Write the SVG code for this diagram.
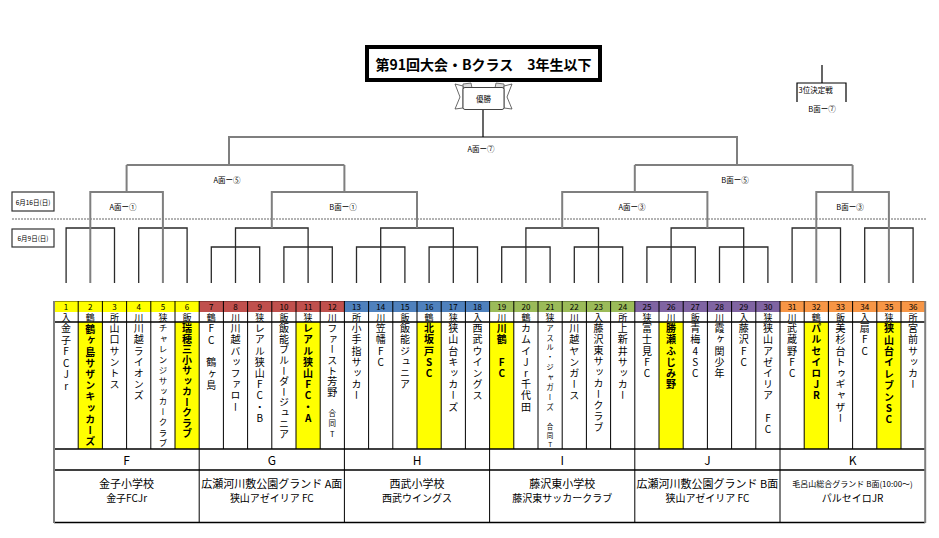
<svg xmlns="http://www.w3.org/2000/svg" width="939" height="538" viewBox="0 0 939 538">
<style>
.t{font-family:"Noto Sans CJK JP","Noto Sans CJK SC",sans-serif;fill:#000}
.v{writing-mode:vertical-rl;text-orientation:upright;font-size:10px;letter-spacing:1.2px}
.b{font-weight:bold}
.c{text-anchor:middle;dominant-baseline:central}
.num{font-size:8px}
.let{font-size:9px}
.lbl{font-size:7.5px}
.grp{font-size:12px}
.ven{font-size:11px}
.sub{font-size:10px}
.ln{stroke:#2a2a2a;stroke-width:1.3;fill:none}
.gl{stroke:#7f7f7f;stroke-width:2;fill:none}
.bk{stroke:#000;stroke-width:1.2;fill:none}
.tl{stroke:#000;stroke-width:1;fill:none}
</style>
<rect width="939" height="538" fill="#fff"/>

<!-- title -->
<g id="title">
<path d="M463 84 L471 83 L472 88 L463 88 Z M504 84 L496 83 L495 88 L504 88 Z" fill="#ddd" stroke="#555" stroke-width="0.8"/>
<rect x="367" y="47" width="233" height="33" fill="#fff" stroke="#000" stroke-width="4"/>
<text class="t c b" x="483.5" y="63.5" font-size="14">第91回大会・Bクラス　3年生以下</text>
</g>
<g id="winner">
<polygon points="463,86 455,84 460,97 455,109 463,108" fill="#fff" stroke="#444" stroke-width="0.8"/>
<polygon points="504,86 512,84 507,97 512,109 504,108" fill="#fff" stroke="#444" stroke-width="0.8"/>
<rect x="463" y="87.5" width="41" height="22" rx="2" fill="#fff" stroke="#444" stroke-width="1"/>
<text class="t c" x="483.5" y="98.5" font-size="7.5">優勝</text>
</g>

<!-- date boxes -->
<g id="date16">
<rect x="12" y="192" width="42" height="19" fill="#fff" stroke="#333" stroke-width="1.2"/>
<text class="t c" x="33" y="201.5" font-size="6.5">6月16日(日)</text>
</g>
<g id="date9">
<rect x="12" y="229" width="42" height="18" fill="#fff" stroke="#333" stroke-width="1.2"/>
<text class="t c" x="33" y="238" font-size="6.5">6月9日(日)</text>
</g>
<line x1="12" y1="219" x2="926" y2="219" stroke="#666" stroke-width="1" stroke-dasharray="2,1"/>

<!-- connectors -->
<g id="connectors">
<path class="ln" d="M66.1 283V228H114.5V283M138.7 283V228H187.1V283"/>
<path class="gl" d="M90.3 283V192H162.9V283M126.6 192V165"/>
<path class="ln" d="M211.3 283V247H259.7V283M283.9 283V247H332.3V283M235.5 283V228H308.1V283"/>
<path class="ln" d="M356.5 283V247H404.9V283M429.1 283V247H477.5V283M380.7 283V228H453.3V283"/>
<path class="ln" d="M501.7 283V247H550.1V283M574.3 283V247H622.7V283M525.9 283V228H598.5V283"/>
<path class="ln" d="M646.9 283V247H695.3V283M719.5 283V247H767.9V283M671.1 283V228H743.7V283"/>
<path class="ln" d="M792.1 283V228H840.5V283M864.7 283V228H913.1V283"/>
<path class="gl" d="M816.3 283V192H888.9V283M852.6 192V165"/>
<path class="gl" d="M271.8 228V192H417V228M344.4 192V165"/>
<path class="gl" d="M562.2 228V192H707.4V228M634.8 192V165"/>
<path class="gl" d="M126.6 165H344.4M229 165V137H737V165M634.8 165H852.6"/>
<path class="bk" d="M483 137V110"/>
<path class="bk" d="M822 65V83M797 102V83H846V102"/>
</g>

<!-- match labels -->
<g id="labels">
<text class="t c lbl" x="481" y="148">A面ー⑦</text>
<text class="t c lbl" x="227" y="179">A面ー⑤</text>
<text class="t c lbl" x="735" y="179">B面ー⑤</text>
<text class="t c lbl" x="123" y="206">A面ー①</text>
<text class="t c lbl" x="343" y="206">B面ー①</text>
<text class="t c lbl" x="632" y="206">A面ー③</text>
<text class="t c lbl" x="850" y="206">B面ー③</text>
<text class="t lbl" x="798.5" y="89" dominant-baseline="central">3位決定戦</text>
<text class="t c lbl" x="822" y="108">B面ー⑦</text>
</g>

<!-- table -->
<g id="table">
<rect x="54" y="301" width="145.2" height="11" fill="#FFFF00"/>
<rect x="199.2" y="301" width="145.2" height="11" fill="#C0504D"/>
<rect x="344.4" y="301" width="145.2" height="11" fill="#4F81BD"/>
<rect x="489.6" y="301" width="145.2" height="11" fill="#9BBB59"/>
<rect x="634.8" y="301" width="145.2" height="11" fill="#8064A2"/>
<rect x="780" y="301" width="145.2" height="11" fill="#F79646"/>
<path d="M54 301.5H199.2" stroke="#9a9a00" stroke-width="1.2"/>
<path d="M199.2 301.5H344.4" stroke="#8c3836" stroke-width="1.2"/>
<path d="M344.4 301.5H489.6" stroke="#385d8a" stroke-width="1.2"/>
<path d="M489.6 301.5H634.8" stroke="#71893f" stroke-width="1.2"/>
<path d="M634.8 301.5H780" stroke="#5c4776" stroke-width="1.2"/>
<path d="M780 301.5H925.2" stroke="#b66d31" stroke-width="1.2"/>
<g fill="#FFFF00">
<rect x="78.2" y="322" width="24.2" height="127"/>
<rect x="175" y="322" width="24.2" height="127"/>
<rect x="296" y="322" width="24.2" height="127"/>
<rect x="417" y="322" width="24.2" height="127"/>
<rect x="489.6" y="322" width="24.2" height="127"/>
<rect x="659" y="322" width="24.2" height="127"/>
<rect x="804.2" y="322" width="24.2" height="127"/>
<rect x="876.8" y="322" width="24.2" height="127"/>
</g>
<path class="tl" d="M78.2 301V449M102.4 301V449M126.6 301V449M150.8 301V449M175 301V449M199.2 301V523M223.4 301V449M247.6 301V449M271.8 301V449M296 301V449M320.2 301V449M344.4 301V523M368.6 301V449M392.8 301V449M417 301V449M441.2 301V449M465.4 301V449M489.6 301V523M513.8 301V449M538 301V449M562.2 301V449M586.4 301V449M610.6 301V449M634.8 301V523M659 301V449M683.2 301V449M707.4 301V449M731.6 301V449M755.8 301V449M780 301V523M804.2 301V449M828.4 301V449M852.6 301V449M876.8 301V449M901 301V449"/>
<path d="M54 322H925.2M54 449H925.2M54 470H925.2M54 522.5H925.2" stroke="#000" stroke-width="1.3"/>
<path d="M54 301V523M925.2 301V523" stroke="#7f7f7f" stroke-width="2"/>
</g>

<g id="numbers">
<text class="t c num" x="66.1" y="306.5">1</text><text class="t c num" x="90.3" y="306.5">2</text><text class="t c num" x="114.5" y="306.5">3</text><text class="t c num" x="138.7" y="306.5">4</text><text class="t c num" x="162.9" y="306.5">5</text><text class="t c num" x="187.1" y="306.5">6</text>
<text class="t c num" x="211.3" y="306.5">7</text><text class="t c num" x="235.5" y="306.5">8</text><text class="t c num" x="259.7" y="306.5">9</text><text class="t c num" x="283.9" y="306.5">10</text><text class="t c num" x="308.1" y="306.5">11</text><text class="t c num" x="332.3" y="306.5">12</text>
<text class="t c num" x="356.5" y="306.5">13</text><text class="t c num" x="380.7" y="306.5">14</text><text class="t c num" x="404.9" y="306.5">15</text><text class="t c num" x="429.1" y="306.5">16</text><text class="t c num" x="453.3" y="306.5">17</text><text class="t c num" x="477.5" y="306.5">18</text>
<text class="t c num" x="501.7" y="306.5">19</text><text class="t c num" x="525.9" y="306.5">20</text><text class="t c num" x="550.1" y="306.5">21</text><text class="t c num" x="574.3" y="306.5">22</text><text class="t c num" x="598.5" y="306.5">23</text><text class="t c num" x="622.7" y="306.5">24</text>
<text class="t c num" x="646.9" y="306.5">25</text><text class="t c num" x="671.1" y="306.5">26</text><text class="t c num" x="695.3" y="306.5">27</text><text class="t c num" x="719.5" y="306.5">28</text><text class="t c num" x="743.7" y="306.5">29</text><text class="t c num" x="767.9" y="306.5">30</text>
<text class="t c num" x="792.1" y="306.5">31</text><text class="t c num" x="816.3" y="306.5">32</text><text class="t c num" x="840.5" y="306.5">33</text><text class="t c num" x="864.7" y="306.5">34</text><text class="t c num" x="888.9" y="306.5">35</text><text class="t c num" x="913.1" y="306.5">36</text>
</g>

<g id="areas">
<text class="t c let" x="66.1" y="317">入</text><text class="t c let" x="90.3" y="317">鶴</text><text class="t c let" x="114.5" y="317">所</text><text class="t c let" x="138.7" y="317">川</text><text class="t c let" x="162.9" y="317">狭</text><text class="t c let" x="187.1" y="317">飯</text>
<text class="t c let" x="211.3" y="317">鶴</text><text class="t c let" x="235.5" y="317">川</text><text class="t c let" x="259.7" y="317">狭</text><text class="t c let" x="283.9" y="317">飯</text><text class="t c let" x="308.1" y="317">狭</text><text class="t c let" x="332.3" y="317">川</text>
<text class="t c let" x="356.5" y="317">所</text><text class="t c let" x="380.7" y="317">川</text><text class="t c let" x="404.9" y="317">飯</text><text class="t c let" x="429.1" y="317">鶴</text><text class="t c let" x="453.3" y="317">狭</text><text class="t c let" x="477.5" y="317">入</text>
<text class="t c let" x="501.7" y="317">川</text><text class="t c let" x="525.9" y="317">鶴</text><text class="t c let" x="550.1" y="317">狭</text><text class="t c let" x="574.3" y="317">川</text><text class="t c let" x="598.5" y="317">入</text><text class="t c let" x="622.7" y="317">所</text>
<text class="t c let" x="646.9" y="317">狭</text><text class="t c let" x="671.1" y="317">川</text><text class="t c let" x="695.3" y="317">飯</text><text class="t c let" x="719.5" y="317">川</text><text class="t c let" x="743.7" y="317">入</text><text class="t c let" x="767.9" y="317">狭</text>
<text class="t c let" x="792.1" y="317">川</text><text class="t c let" x="816.3" y="317">鶴</text><text class="t c let" x="840.5" y="317">飯</text><text class="t c let" x="864.7" y="317">入</text><text class="t c let" x="888.9" y="317">狭</text><text class="t c let" x="913.1" y="317">所</text>
</g>

<g id="teams">
<text class="t v" x="66.1" y="323.5" style="letter-spacing:1.5px">金子FCJr</text>
<text class="t v b" x="90.3" y="324.5">鶴ヶ島サザンキッカーズ</text>
<text class="t v" x="114.5" y="323.5">山口サントス</text>
<text class="t v" x="138.7" y="323.5">川越ライオンズ</text>
<text class="t v" x="162.9" y="323.8" style="font-size:8.5px;letter-spacing:1.95px">チャレンジサッカークラブ</text>
<text class="t v b" x="187.1" y="323.5" style="letter-spacing:0.5px">瑞穂三小サッカークラブ</text>
<text class="t v" x="211.3" y="323.5" style="letter-spacing:1.4px">FC　鶴ヶ島</text>
<text class="t v" x="235.5" y="323.5">川越バッファロー</text>
<text class="t v" x="259.7" y="323.5">レアル狭山FC・B</text>
<text class="t v" x="283.9" y="323.5" style="letter-spacing:0.6px">飯能ブルーダージュニア</text>
<text class="t v b" x="308.1" y="323.5">レアル狭山FC・A</text>
<text class="t v" x="332.3" y="323.5" style="letter-spacing:0.6px">ファースト芳野</text>
<text class="t v" x="332.3" y="409.3" style="font-size:7.5px;letter-spacing:3px">合同T</text>
<text class="t v" x="356.5" y="323.5">小手指サッカー</text>
<text class="t v" x="380.7" y="323.5">笠幡FC</text>
<text class="t v" x="404.9" y="323.5">飯能ジュニア</text>
<text class="t v b" x="429.1" y="323.5">北坂戸SC</text>
<text class="t v" x="453.3" y="323.5">狭山台キッカーズ</text>
<text class="t v" x="477.5" y="323.5">西武ウイングス</text>
<text class="t v b" x="501.7" y="323.5">川鶴　FC</text>
<text class="t v" x="525.9" y="323.5">カムイJr千代田</text>
<text class="t v" x="550.1" y="324.2" style="font-size:7.5px;letter-spacing:2.35px">アスル・ジャガーズ</text>
<text class="t v" x="550.1" y="422.8" style="font-size:6.5px;letter-spacing:2.5px">合同T</text>
<text class="t v" x="574.3" y="323.5">川越ヤンガース</text>
<text class="t v" x="598.5" y="323.5" style="letter-spacing:1px">藤沢東サッカークラブ</text>
<text class="t v" x="622.7" y="323.5">上新井サッカー</text>
<text class="t v" x="646.9" y="323.5">富士見FC</text>
<text class="t v b" x="671.1" y="323.5">勝瀬ふじみ野</text>
<text class="t v" x="695.3" y="323.5">青梅4SC</text>
<text class="t v" x="719.5" y="323.5">霞ヶ関少年</text>
<text class="t v" x="743.7" y="323.5">藤沢FC</text>
<text class="t v" x="767.9" y="323.5">狭山アゼイリア　FC</text>
<text class="t v" x="792.1" y="323.5">武蔵野FC</text>
<text class="t v b" x="816.3" y="323.5">パルセイロJR</text>
<text class="t v" x="840.5" y="323.5">美杉台トゥギャザー</text>
<text class="t v" x="864.7" y="323.5">扇FC</text>
<text class="t v b" x="888.9" y="323.5" style="letter-spacing:1.4px">狭山台イレブンSC</text>
<text class="t v" x="913.1" y="323.5">宮前サッカー</text>
</g>

<g id="groupF">
<text class="t c grp" x="126.6" y="459.5">F</text>
<text class="t c ven" x="126.6" y="483">金子小学校</text>
<text class="t c sub" x="126.6" y="497">金子FCJr</text>
</g>
<g id="groupG">
<text class="t c grp" x="271.8" y="459.5">G</text>
<text class="t c ven" x="271.8" y="483">広瀬河川敷公園グランド A面</text>
<text class="t c sub" x="271.8" y="497">狭山アゼイリア FC</text>
</g>
<g id="groupH">
<text class="t c grp" x="417" y="459.5">H</text>
<text class="t c ven" x="417" y="483">西武小学校</text>
<text class="t c sub" x="417" y="497">西武ウイングス</text>
</g>
<g id="groupI">
<text class="t c grp" x="562.2" y="459.5">I</text>
<text class="t c ven" x="562.2" y="483">藤沢東小学校</text>
<text class="t c sub" x="562.2" y="497">藤沢東サッカークラブ</text>
</g>
<g id="groupJ">
<text class="t c grp" x="707.4" y="459.5">J</text>
<text class="t c ven" x="707.4" y="483">広瀬河川敷公園グランド B面</text>
<text class="t c sub" x="707.4" y="497">狭山アゼイリア FC</text>
</g>
<g id="groupK">
<text class="t c grp" x="852.6" y="459.5">K</text>
<text class="t c" x="852.6" y="483" font-size="8">毛呂山総合グランド B面(10:00～)</text>
<text class="t c sub" x="852.6" y="497">パルセイロJR</text>
</g>
</svg>
